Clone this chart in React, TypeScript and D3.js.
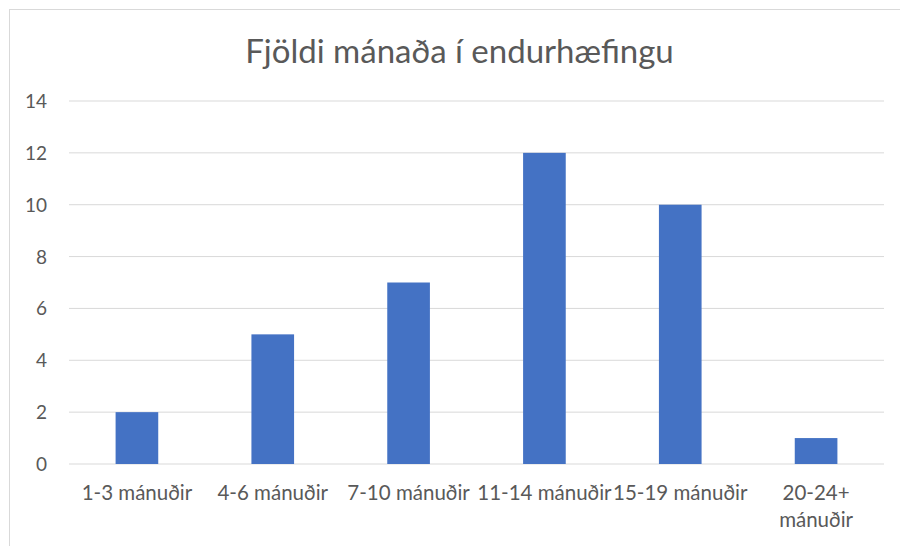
import React from 'react';
import * as d3 from 'd3';

const categories = ['1-3 mánuðir', '4-6 mánuðir', '7-10 mánuðir', '11-14 mánuðir', '15-19 mánuðir', '20-24+ mánuðir'];
const values = [2, 5, 7, 12, 10, 1];
const yTicks = [0, 2, 4, 6, 8, 10, 12, 14];
const title = 'Fjöldi mánaða í endurhæfingu';

// the last category wraps on two lines in the original
const labelLines: string[][] = [
  ['1-3 mánuðir'],
  ['4-6 mánuðir'],
  ['7-10 mánuðir'],
  ['11-14 mánuðir'],
  ['15-19 mánuðir'],
  ['20-24+', 'mánuðir'],
];

export default function App() {
  const width = 900;
  const height = 546;
  const left = 69;
  const right = 884;
  const top = 101;
  const bottom = 464;
  const font = 'Lato, "Open Sans", sans-serif';

  const x = d3.scaleBand<string>()
    .domain(categories)
    .range([left, right])
    .paddingInner(0.686)
    .paddingOuter(0.343);

  const y = d3.scaleLinear()
    .domain([0, 14])
    .range([bottom, top]);

  const band = (right - left) / categories.length;

  return (
    <svg width={width} height={height} style={{ position: 'fixed', left: 0, top: 0 }}>
      <rect x={0} y={0} width={width} height={height} fill="#fff" />
      <rect x={9.5} y={9.5} width={width + 20} height={height + 20} fill="#fff" stroke="#d9d9d9" />
      <text x={(left + right) / 2 - 17} y={63} textAnchor="middle" fontFamily={font} fontSize={33} fill="#595959">
        {title}
      </text>
      {yTicks.map(t => (
        <g key={t}>
          <line x1={left} x2={right} y1={y(t)} y2={y(t)} stroke="#d9d9d9" strokeWidth={1} />
          <text x={47} y={y(t) + 7} textAnchor="end" fontFamily={font} fontSize={19} fill="#595959">
            {t}
          </text>
        </g>
      ))}
      {categories.map((c, i) => (
        <rect
          key={c}
          x={x(c)}
          y={y(values[i])}
          width={x.bandwidth()}
          height={y(0) - y(values[i])}
          fill="#4472c4"
        />
      ))}
      {categories.map((c, i) => (
        <text key={c} textAnchor="middle" fontFamily={font} fontSize={20.5} fill="#595959">
          {labelLines[i].map((line, j) => (
            <tspan key={j} x={left + band * (i + 0.5)} y={500 + j * 27}>{line}</tspan>
          ))}
        </text>
      ))}
    </svg>
  );
}
